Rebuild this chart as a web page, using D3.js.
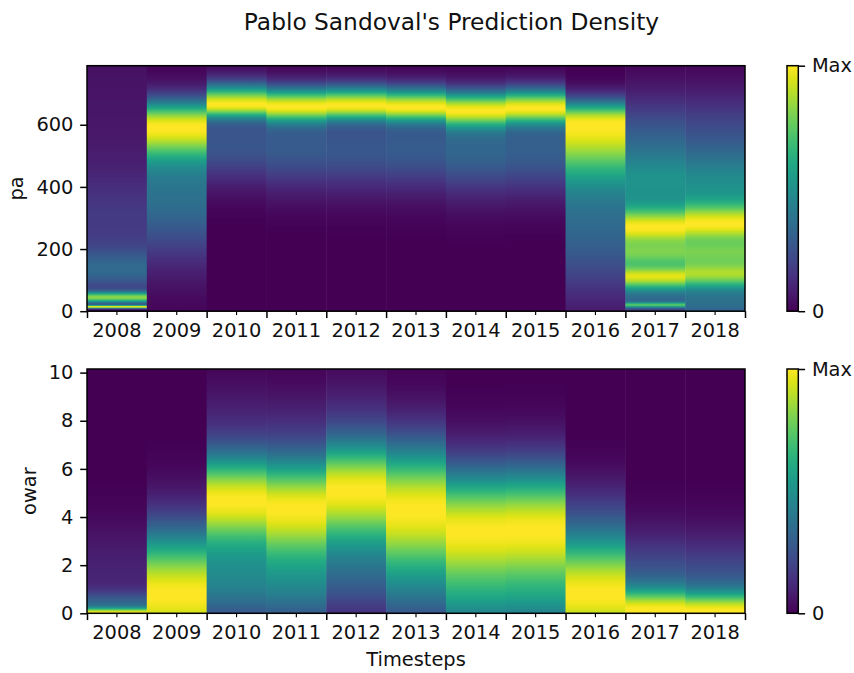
<!DOCTYPE html>
<html>
<head>
<meta charset="utf-8">
<script src="https://cdn.jsdelivr.net/npm/d3@7"></script>
<style>
  body { margin: 0; background: #fff; }
  svg { display: block; font-family: "DejaVu Sans", sans-serif; }
</style>
</head>
<body>
<div id="chart"></div>
<script>
// timesteps
const years = [2008, 2009, 2010, 2011, 2012, 2013, 2014, 2015, 2016, 2017, 2018]

// density per year, read off the picture as bumps:
// [centre, spread below, spread above, weight]
const paBumps = [
    [[14, 3.5, 3.5, 1], [44, 13, 13, 0.78], [130, 50, 50, 0.28], [280, 120, 120, 0.15], [600, 250, 250, 0.06]],
    [[598, 75, 56, 1], [380, 150, 150, 0.42]],
    [[666, 30, 45, 1], [540, 90, 90, 0.3]],
    [[660, 35, 42, 1], [530, 95, 95, 0.32]],
    [[663, 33, 42, 1], [525, 95, 95, 0.3]],
    [[658, 33, 42, 1], [525, 95, 95, 0.32]],
    [[648, 38, 42, 1], [520, 100, 100, 0.38]],
    [[655, 36, 42, 1], [520, 100, 100, 0.34]],
    [[605, 135, 50, 1], [250, 150, 150, 0.3]],
    [[268, 40, 45, 1], [108, 32, 26, 1], [180, 35, 35, 0.8], [400, 80, 80, 0.5], [560, 100, 100, 0.3], [20, 6, 6, 0.55], [30, 30, 30, 0.3]],
    [[277, 42, 48, 1], [115, 35, 30, 0.9], [185, 35, 35, 0.78], [400, 80, 80, 0.5], [570, 100, 100, 0.25], [20, 40, 40, 0.4]]
]
const owarBumps = [
    [[0, 0.15, 0.15, 1], [0.4, 0.35, 0.35, 0.3], [1.5, 1.5, 1.5, 0.12]],
    [[0.75, 1.9, 1.9, 1]],
    [[4.7, 1.45, 1.35, 1], [1.2, 1.3, 1.3, 0.4], [8, 1.2, 1.2, 0.08]],
    [[4.35, 1.75, 1.5, 1], [0.8, 1.2, 1.2, 0.3], [7.8, 1.2, 1.2, 0.08]],
    [[5.1, 1.75, 1.45, 1], [1.3, 1.2, 1.3, 0.22], [8.3, 1.2, 1.2, 0.08]],
    [[4.3, 2.3, 1.9, 1], [0.5, 1.0, 1.0, 0.1]],
    [[3.4, 2.05, 1.8, 1], [0.2, 1.0, 1.0, 0.2]],
    [[3.45, 2.05, 1.8, 1], [0.2, 1.0, 1.0, 0.2]],
    [[0.8, 1.85, 1.85, 1], [4.5, 1, 1, 0.06]],
    [[0.1, 0.6, 0.6, 1], [1.0, 1.5, 1.5, 0.4]],
    [[0.05, 0.55, 0.55, 1], [0.9, 1.5, 1.5, 0.38]]
]

const paTicks = [0, 200, 400, 600]
const owarTicks = [0, 2, 4, 6, 8, 10]
const barTicks = ['0', 'Max']

const width = 854, height = 673
const fs = 19.4
const majorLen = 6.8, minorLen = 3.9, lw = 1.5
const left = 87, right = 745
const rows = 300
const ink = '#111'

const svg = d3.select('#chart').append('svg').attr('width', width).attr('height', height)
const defs = svg.append('defs')

svg.append('text')
    .attr('x', 451.5).attr('y', 30)
    .attr('text-anchor', 'middle')
    .style('font-size', '23.3px')
    .style('fill', ink)
    .text("Pablo Sandoval's Prediction Density")

const x = d3.scaleBand().domain(years).range([left, right]).padding(0)
const xEdge = d3.scaleLinear().domain([0, years.length]).range([left, right])

const density = (bumps, v) => d3.sum(bumps, b => {
    const s = v < b[0] ? b[1] : b[2]
    return b[3] * Math.exp(-((v - b[0]) ** 2) / (2 * s * s))
})

const draw_panel = (id, top, bottom, ymax, bumps, ticks, label, labelX, showXLabel) => {
    const y = d3.scaleLinear().domain([0, ymax]).range([bottom, top])
    const g = svg.append('g')

    years.forEach((yr, i) => {
        // stops run top (offset 0) to bottom (offset 1), each column scaled to its own max
        const vals = d3.range(rows + 1).map(r => density(bumps[i], y.invert(top + (bottom - top) * r / rows)))
        const mx = d3.max(vals)
        const grad = defs.append('linearGradient')
            .attr('id', id + i)
            .attr('x1', 0).attr('y1', 0).attr('x2', 0).attr('y2', 1)
        grad.selectAll('stop')
            .data(vals)
            .enter()
            .append('stop')
            .attr('offset', (d, r) => r / rows)
            .attr('stop-color', d => d3.interpolateViridis(d / mx))
        g.append('rect')
            .attr('x', x(yr))
            .attr('width', x.bandwidth() + (i < years.length - 1 ? 0.5 : 0))
            .attr('y', top)
            .attr('height', bottom - top)
            .attr('fill', 'url(#' + id + i + ')')
    })

    // frame
    g.append('rect')
        .attr('x', left).attr('y', top)
        .attr('width', right - left).attr('height', bottom - top)
        .attr('fill', 'none').attr('stroke', '#000').attr('stroke-width', lw)

    // labelled minor ticks at column centres
    const xa = g.append('g')
        .attr('transform', 'translate(0,' + bottom + ')')
        .call(d3.axisBottom(x).tickSize(minorLen).tickPadding(8.4).tickSizeOuter(0))
    xa.select('.domain').remove()
    xa.selectAll('line').attr('stroke-width', 1.15)

    // major ticks at column edges
    const xm = g.append('g')
        .attr('transform', 'translate(0,' + bottom + ')')
        .call(d3.axisBottom(xEdge).tickValues(d3.range(years.length + 1)).tickSize(majorLen).tickFormat(''))
    xm.select('.domain').remove()
    xm.selectAll('line').attr('stroke-width', lw)

    const ya = g.append('g')
        .attr('transform', 'translate(' + left + ',0)')
        .call(d3.axisLeft(y).tickValues(ticks).tickSize(majorLen).tickPadding(6.8).tickSizeOuter(0))
    ya.select('.domain').remove()
    ya.selectAll('line').attr('stroke-width', lw)

    svg.selectAll('.tick text').style('font-size', fs + 'px').style('fill', ink).style('font-family', '"DejaVu Sans"')

    svg.append('text')
        .attr('transform', 'translate(' + labelX + ',' + ((top + bottom) / 2) + ') rotate(-90)')
        .attr('text-anchor', 'middle')
        .style('font-size', fs + 'px')
        .style('fill', ink)
        .text(label)

    // colour bar
    const cbGrad = defs.append('linearGradient')
        .attr('id', id + 'bar')
        .attr('x1', 0).attr('y1', 1).attr('x2', 0).attr('y2', 0)
    cbGrad.selectAll('stop')
        .data(d3.range(21))
        .enter()
        .append('stop')
        .attr('offset', d => d / 20)
        .attr('stop-color', d => d3.interpolateViridis(d / 20))
    const cb = svg.append('g')
    cb.append('rect')
        .attr('x', 787).attr('y', top).attr('width', 11.3).attr('height', bottom - top)
        .attr('fill', 'url(#' + id + 'bar)')
        .attr('stroke', '#000').attr('stroke-width', lw)
    const cba = cb.append('g')
        .attr('transform', 'translate(798.3,0)')
        .call(d3.axisRight(d3.scalePoint().domain(barTicks).range([bottom, top]))
            .tickSize(majorLen).tickPadding(6.8).tickSizeOuter(0))
    cba.select('.domain').remove()
    cba.selectAll('line').attr('stroke-width', lw)
    cba.selectAll('text').style('font-size', fs + 'px').style('fill', ink).style('font-family', '"DejaVu Sans"')

    if (showXLabel) {
        svg.append('text')
            .attr('x', (left + right) / 2).attr('y', 666)
            .attr('text-anchor', 'middle')
            .style('font-size', fs + 'px')
            .style('fill', ink)
            .text('Timesteps')
    }
}

draw_panel('pa', 65.7, 311.2, 790, paBumps, paTicks, 'pa', 22.6, false)
draw_panel('owar', 369, 613.3, 10.15, owarBumps, owarTicks, 'owar', 36, true)
</script>
</body>
</html>
